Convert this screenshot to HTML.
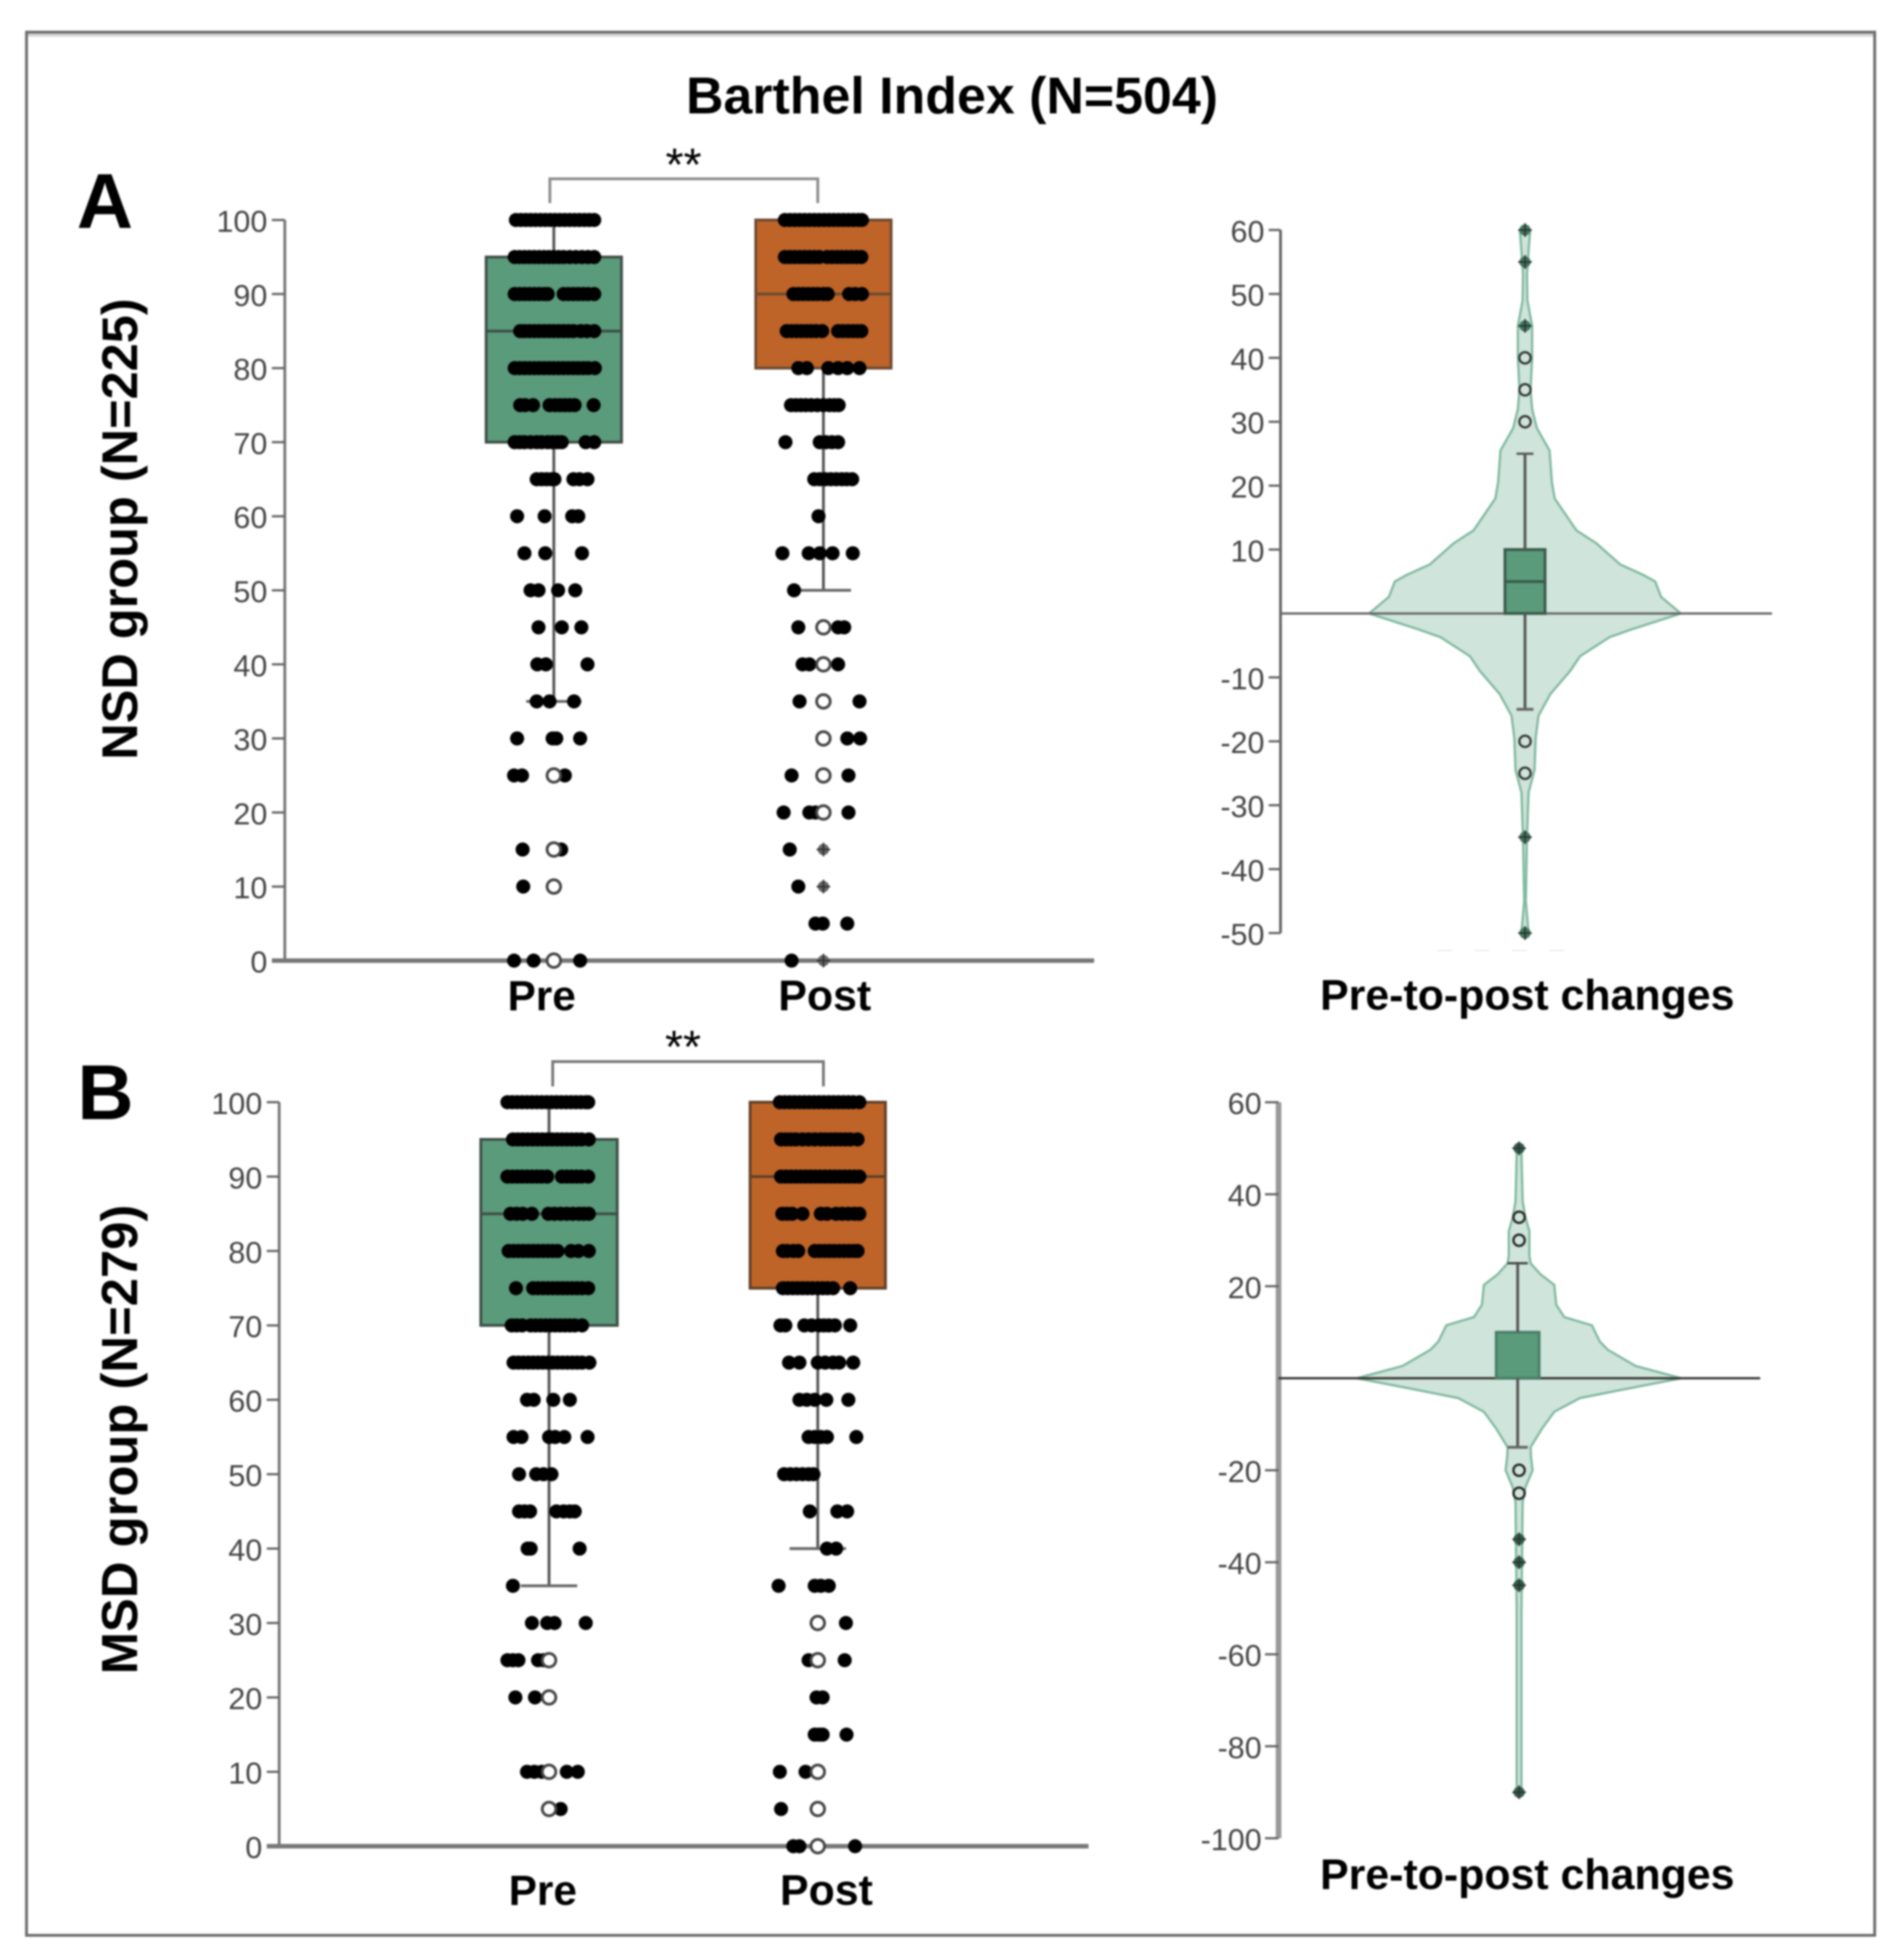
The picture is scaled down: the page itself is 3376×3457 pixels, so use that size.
<!DOCTYPE html>
<html lang="en">
<head>
<meta charset="utf-8">
<title>Barthel Index (N=504)</title>
<style>
html,body{margin:0;padding:0;background:#fff;}
svg{display:block;filter:blur(1.6px);}
text{font-family:"Liberation Sans",sans-serif;}
</style>
</head>
<body>
<svg id="chart" xmlns="http://www.w3.org/2000/svg" width="3376" height="3457" viewBox="0 0 3376 3457">
  <rect x="0" y="0" width="3376" height="3457" fill="#fff"/>
  <line x1="47" y1="62" x2="3324" y2="62" stroke="#d4d4d4" stroke-width="6"/>
  <rect x="47" y="57" width="3277" height="3374" fill="none" stroke="#6b6b6b" stroke-width="5"/>
  <text x="1688" y="201" text-anchor="middle" font-size="92" font-weight="700" fill="#000">Barthel Index (N=504)</text>
  <text x="186" y="404" text-anchor="middle" font-size="138" font-weight="700" fill="#000">A</text>
  <text x="187" y="1984" text-anchor="middle" font-size="138" font-weight="700" fill="#000">B</text>
  <text transform="translate(243 938) rotate(-90)" text-anchor="middle" font-size="89.5" font-weight="700" fill="#000">NSD group (N=225)</text>
  <text transform="translate(243 2552) rotate(-90)" text-anchor="middle" font-size="90" font-weight="700" fill="#000">MSD group (N=279)</text>
  <text x="900" y="1791" font-size="75" font-weight="700" fill="#000">Pre</text>
  <text x="1380" y="1791" font-size="76" font-weight="700" fill="#000">Post</text>
  <text x="902" y="3377" font-size="75" font-weight="700" fill="#000">Pre</text>
  <text x="1383" y="3377" font-size="76" font-weight="700" fill="#000">Post</text>
  <text x="2708" y="1790" text-anchor="middle" font-size="76" font-weight="700" fill="#000">Pre-to-post changes</text>
  <text x="2708" y="3349" text-anchor="middle" font-size="76" font-weight="700" fill="#000">Pre-to-post changes</text>
  <path d="M975 360V317H1450V360" fill="none" stroke="#8c8c8c" stroke-width="5"/>
  <path d="M980 1926V1882H1460V1926" fill="none" stroke="#777" stroke-width="5"/>
  <text x="1212" y="320" text-anchor="middle" font-size="82" fill="#000">**</text>
  <text x="1211" y="1884" text-anchor="middle" font-size="82" fill="#000">**</text>
  <line x1="2549" y1="1685" x2="2801" y2="1685" stroke="#eeeeee" stroke-width="3" stroke-dasharray="26 40"/>
  <g id="plots"></g>
</svg>
<script>
// ---- Tick labels ----
const stripTicks = [0,10,20,30,40,50,60,70,80,90,100];
const changeTicksA = [60,50,40,30,20,10,-10,-20,-30,-40,-50];
const changeTicksB = [60,40,20,-20,-40,-60,-80,-100];

// ---- Box statistics: [q1, median, q3, whiskerLow, whiskerHigh] ----
const boxPreA = [70,85,95,35,100];
const boxPostA = [80,90,100,50,100];
const boxPreB = [70,85,95,35,100];
const boxPostB = [75,90,100,40,100];
const boxChangeA = [0,5,10,-15,25];
const boxChangeB = [0,0,10,-15,25];

// ---- Strip-plot rows: score and the jitter of each dot in that row ----
const rowsPreA = [100,95,90,85,80,75,70,65,60,55,50,45,40,35,30,25,15,10,0];
const jitterPreA = [
 [-62,-54,-46,-38,-30,-22,-14,-6,2,10,18,26,34,42,50,58,66],
 [-64,-56,-48,-40,-32,-24,-16,-8,0,8,16,26,36,46,56,66],
 [-64,-56,-48,-40,-32,-24,-16,-10,16,24,32,40,48,56,66],
 [-55,-48,-40,-32,-24,-16,-8,0,8,16,24,32,44,54,66],
 [-64,-56,-48,-40,-32,-24,-16,-8,0,8,16,24,32,40,48,56,67],
 [-55,-47,-34,-7,2,10,18,26,34,65],
 [-64,-56,-48,-38,-28,-20,-10,-2,6,13,52,66],
 [-28,-20,-12,-4,1,32,42,55],
 [-60,-15,30,40],
 [-48,-14,46],
 [-38,-25,7,35],
 [-25,13,45],
 [-27,-13,55],
 [-28,-7,33],
 [-60,-2,4,43],
 [-65,-52,18],
 [-51,12],
 [-50],
 [-65,-33,43]
];
const openPreA = [25,15,10,0];

const rowsPostA = [100,95,90,85,80,75,70,65,60,55,50,45,40,35,30,25,20,15,10,5,0];
const jitterPostA = [
 [-63,-55,-47,-39,-31,-23,-15,-7,1,9,17,25,33,41,49,57,63],
 [-63,-55,-47,-39,-31,-23,-15,-7,6,14,22,30,38,46,54,62],
 [-49,-41,-33,-25,-17,-9,0,7,42,52,63],
 [-60,-52,-44,-36,-28,-20,-12,-2,24,32,40,48,55,62],
 [-41,-27,8,24,39,59],
 [-53,-45,-37,-29,-20,-10,0,10,18,25],
 [-62,-6,4,14,24],
 [-15,-6,3,12,21,30,38,47],
 [-8],
 [-67,-24,-6,15,48],
 [-48],
 [-41,24,34],
 [-34,-23,0,24],
 [-39,59],
 [39,60],
 [-52,41],
 [-65,-23,-13,41],
 [-55],
 [-41],
 [-13,-1,39],
 [-52]
];
const openPostA = [45,40,35,30,25,20];
const starPostA = [15,10,0];

const rowsPreB = [100,95,90,85,80,75,70,65,60,55,50,45,40,35,30,25,20,10,5];
const jitterPreB = [
 [-68,-60,-52,-44,-36,-28,-20,-12,-4,4,12,20,28,36,44,52,60,64],
 [-59,-51,-43,-35,-27,-19,-11,-3,5,13,21,29,37,45,53,65],
 [-68,-60,-52,-44,-36,-28,-20,-12,-3,21,29,37,45,53,64],
 [-63,-53,-43,-28,-1,9,19,29,39,49,57,65],
 [-66,-58,-50,-42,-34,-26,-18,-10,-2,6,14,36,48,65],
 [-54,-26,-18,-10,-2,6,14,22,30,38,46,54,64],
 [-61,-53,-44,-30,-22,-14,-6,2,10,18,26,34,42,54],
 [-58,-50,-42,-34,-26,-18,-10,-2,6,14,22,30,38,46,54,66],
 [-36,-25,7,34],
 [-58,-45,0,10,25,63],
 [-49,-21,-9,4],
 [-49,-40,-31,12,24,34,42],
 [-35,-30,50],
 [-59],
 [-28,-3,9,60],
 [-68,-59,-50,-18,-9],
 [-55,-23],
 [-36,-24,-12,29,47],
 [19]
];
const openPreB = [25,20,10,5];

const rowsPostB = [100,95,90,85,80,75,70,65,60,55,50,45,40,35,30,25,20,15,10,5,0];
const jitterPostB = [
 [-62,-54,-46,-38,-30,-22,-14,-6,2,10,18,26,34,42,50,58,68],
 [-60,-52,-44,-36,-25,-15,-5,5,13,21,29,37,45,53,65],
 [-60,-52,-44,-36,-28,-20,-12,-4,4,12,20,28,36,44,52,60,68],
 [-58,-50,-42,-25,5,15,30,40,50,60,68],
 [-57,-50,-40,-32,-5,3,11,19,27,35,43,51,59,65],
 [-57,-49,-41,-33,-25,-17,-9,0,8,16,25,53],
 [-61,-53,-22,-10,2,10,18,28,53],
 [-47,-30,0,12,25,35,58],
 [-30,-18,-5,14,50],
 [-15,-5,5,15,63],
 [-55,-45,-35,-25,-15,-7],
 [-13,32,48],
 [15,30],
 [-64,-5,5,18],
 [46],
 [-15,44],
 [-2,8],
 [-5,2,8,47],
 [-62,-20],
 [-60],
 [-40,-30,61]
];
const openPostB = [30,25,10,5,0];

// ---- Violin density: change value and half-width of the density ----
const violinValuesA = [60,55,53,49,45,40,35,32,29,25.5,20.5,18,13,11,7.7,6,5,2.6,0,-2.5,-3.7,-6.7,-9,-12.6,-16,-19.5,-24.5,-28,-35,-45,-50];
const violinDensityA = [13,7,5,6,18,18,14,18,30,62,68,75,130,180,240,300,329,344,394,269,214,139,114,64,34,27,24,9,5,2,9];
const violinValuesB = [50,49,38.5,35,32,26.7,25,22.6,20.3,16,13.3,11.5,8,6.2,2.7,0,-2.6,-4.3,-7.3,-10.8,-15,-17,-20,-23.7,-27,-50.7,-90];
const violinDensityB = [8,6,9,16,26,26,29,54,89,94,114,184,204,224,294,410,254,154,89,59,29,30,34,16,9,6,6];

// ---- Violin outliers ----
const starsChangeA = [60,55,45,-35,-50];
const openChangeA = [40,35,30,-20,-25];
const starsChangeB = [50,-35,-40,-45,-90];
const openChangeB = [35,30,-20,-25];

// ---- Axis functions ----
const yA = v => 1703 - 13.13 * v;
const yB = v => 3273 - 13.19 * v;
const yChangeA = v => 1087.6 - 11.33 * v;
const yChangeB = v => 2443.4 - 8.155 * v;
const jitterUnit = 1.085;
const densityUnit = 0.7015;

const SVGNS = 'http://www.w3.org/2000/svg';
const root = document.getElementById('plots');

function add(parent, tag, attrs, name) {
  const el = document.createElementNS(SVGNS, tag);
  for (const k in attrs) el.setAttribute(k, attrs[k]);
  
  
  parent.appendChild(el);
  return el;
}

function yAxis(axisX, scale, ticks, tickLen, labelX, domain, prefix, width, color) {
  const g = add(root, 'g', {}, prefix + '-y-axis');
  add(g, 'line', {x1: axisX, x2: axisX, y1: scale(domain[0]), y2: scale(domain[1]), stroke: color, 'stroke-width': width}, prefix + '-y-axis-line');
  ticks.forEach(t => {
    add(g, 'line', {x1: axisX - tickLen, x2: axisX, y1: scale(t), y2: scale(t), stroke: '#666', 'stroke-width': 4}, prefix + '-tick-' + t);
    const label = add(g, 'text', {x: labelX, y: scale(t) + 21, 'text-anchor': 'end', 'font-size': 54, fill: '#444'}, prefix + '-tick-label-' + t);
    label.textContent = String(t);
  });
}

function drawBox(scale, cx, halfW, capHalf, stats, fill, stroke, prefix) {
  const g = add(root, 'g', {}, prefix + '-box');
  const [q1, med, q3, lo, hi] = stats;
  add(g, 'rect', {x: cx - halfW, y: scale(q3), width: halfW * 2, height: scale(q1) - scale(q3), fill: fill, stroke: stroke, 'stroke-width': 5}, prefix + '-iqr');
  add(g, 'line', {x1: cx - halfW, x2: cx + halfW, y1: scale(med), y2: scale(med), stroke: stroke, 'stroke-width': 5}, prefix + '-median');
  add(g, 'line', {x1: cx, x2: cx, y1: scale(hi), y2: scale(q3), stroke: '#555', 'stroke-width': 5}, prefix + '-whisker-high');
  add(g, 'line', {x1: cx, x2: cx, y1: scale(q1), y2: scale(lo), stroke: '#555', 'stroke-width': 5}, prefix + '-whisker-low');
  add(g, 'line', {x1: cx - capHalf, x2: cx + capHalf, y1: scale(lo), y2: scale(lo), stroke: '#666', 'stroke-width': 5}, prefix + '-whisker-cap');
}

function drawDots(scale, cx, rows, jitter, prefix) {
  const g = add(root, 'g', {}, prefix + '-dots');
  rows.forEach((v, i) => {
    jitter[i].forEach(j => {
      add(g, 'circle', {cx: cx + j * jitterUnit, cy: scale(v), r: 12.5, fill: '#000'}, prefix + '-dot');
    });
  });
}

function drawOpen(scale, cx, values, prefix, r, stroke, sw, fill) {
  const g = add(root, 'g', {}, prefix + '-outliers');
  values.forEach(v => {
    add(g, 'circle', {cx: cx, cy: scale(v), r: r, fill: fill, stroke: stroke, 'stroke-width': sw}, prefix + '-outlier');
  });
}

function drawStars(scale, cx, values, prefix, r, fill) {
  const g = add(root, 'g', {}, prefix + '-extremes');
  values.forEach(v => {
    const y = scale(v);
    add(g, 'circle', {cx: cx, cy: y, r: r, fill: fill}, prefix + '-extreme');
    add(g, 'line', {x1: cx - r - 2, x2: cx + r + 2, y1: y, y2: y, stroke: '#333', 'stroke-width': 3}, prefix + '-extreme-h');
    add(g, 'line', {x1: cx, x2: cx, y1: y - r - 2, y2: y + r + 2, stroke: '#333', 'stroke-width': 3}, prefix + '-extreme-v');
  });
}

function drawViolin(scale, cx, values, density, prefix) {
  let d = '';
  values.forEach((v, i) => {
    d += (i ? 'L' : 'M') + (cx + density[i] * densityUnit).toFixed(1) + ' ' + scale(v).toFixed(1);
  });
  for (let i = values.length - 1; i >= 0; i--) {
    d += 'L' + (cx - density[i] * densityUnit).toFixed(1) + ' ' + scale(values[i]).toFixed(1);
  }
  d += 'Z';
  add(root, 'path', {d: d, fill: '#cfe4da', stroke: '#7fb8a0', 'stroke-width': 4, 'stroke-linejoin': 'round'}, prefix + '-violin');
}

// ---- Panel A strip plot ----
yAxis(505, yA, stripTicks, 23, 474, [0, 100], 'panel-a', 5, '#777');
drawBox(yA, 982, 120, 49, boxPreA, '#5a9b7b', '#3f4f47', 'pre-a');
drawBox(yA, 1460, 120, 49, boxPostA, '#bf6428', '#6b4a33', 'post-a');
add(root, 'line', {x1: 482, x2: 1940, y1: yA(0), y2: yA(0), stroke: '#777', 'stroke-width': 8}, 'panel-a-x-axis');
drawDots(yA, 982, rowsPreA, jitterPreA, 'pre-a');
drawDots(yA, 1460, rowsPostA, jitterPostA, 'post-a');
drawOpen(yA, 982, openPreA, 'pre-a', 12, '#444', 5, '#fff');
drawOpen(yA, 1460, openPostA, 'post-a', 12, '#444', 5, '#fff');
drawStars(yA, 1460, starPostA, 'post-a', 10, '#666');

// ---- Panel B strip plot ----
yAxis(495, yB, stripTicks, 22, 465, [0, 100], 'panel-b', 5, '#777');
drawBox(yB, 973.5, 121, 50, boxPreB, '#5a9b7b', '#3f4f47', 'pre-b');
drawBox(yB, 1450, 120, 50, boxPostB, '#bf6428', '#5f4028', 'post-b');
add(root, 'line', {x1: 473, x2: 1930, y1: yB(0), y2: yB(0), stroke: '#777', 'stroke-width': 8}, 'panel-b-x-axis');
drawDots(yB, 973.5, rowsPreB, jitterPreB, 'pre-b');
drawDots(yB, 1450, rowsPostB, jitterPostB, 'post-b');
drawOpen(yB, 973.5, openPreB, 'pre-b', 12, '#444', 5, '#fff');
drawOpen(yB, 1450, openPostB, 'post-b', 12, '#444', 5, '#fff');

// ---- Panel A violin ----
yAxis(2270.5, yChangeA, changeTicksA, 21, 2242, [-50, 60], 'change-a', 5, '#666');
drawViolin(yChangeA, 2704, violinValuesA, violinDensityA, 'change-a');
add(root, 'line', {x1: 2270, x2: 3142, y1: yChangeA(0), y2: yChangeA(0), stroke: '#666', 'stroke-width': 4}, 'change-a-zero-line');
drawBox(yChangeA, 2704, 35.5, 15, boxChangeA, '#5a9b7b', '#3a5a4b', 'change-a');
add(root, 'line', {x1: 2689, x2: 2719, y1: yChangeA(25), y2: yChangeA(25), stroke: '#555', 'stroke-width': 4}, 'change-a-whisker-top-cap');
drawOpen(yChangeA, 2704, openChangeA, 'change-a', 10, '#333', 4, 'none');
drawStars(yChangeA, 2704, starsChangeA, 'change-a', 10, '#3f7a60');

// ---- Panel B violin ----
yAxis(2267, yChangeB, changeTicksB, 24, 2237, [-100, 60], 'change-b', 10, '#999');
drawViolin(yChangeB, 2693.5, violinValuesB, violinDensityB, 'change-b');
add(root, 'line', {x1: 2267, x2: 3121, y1: yChangeB(0), y2: yChangeB(0), stroke: '#333', 'stroke-width': 4}, 'change-b-zero-line');
drawBox(yChangeB, 2691, 38, 18, boxChangeB, '#5a9b7b', '#4a7f66', 'change-b');
add(root, 'line', {x1: 2673, x2: 2709, y1: yChangeB(25), y2: yChangeB(25), stroke: '#444', 'stroke-width': 4}, 'change-b-whisker-top-cap');
drawOpen(yChangeB, 2693.5, openChangeB, 'change-b', 10, '#222', 4, 'none');
drawStars(yChangeB, 2693.5, starsChangeB, 'change-b', 10, '#2f5f4a');
</script>
</body>
</html>
